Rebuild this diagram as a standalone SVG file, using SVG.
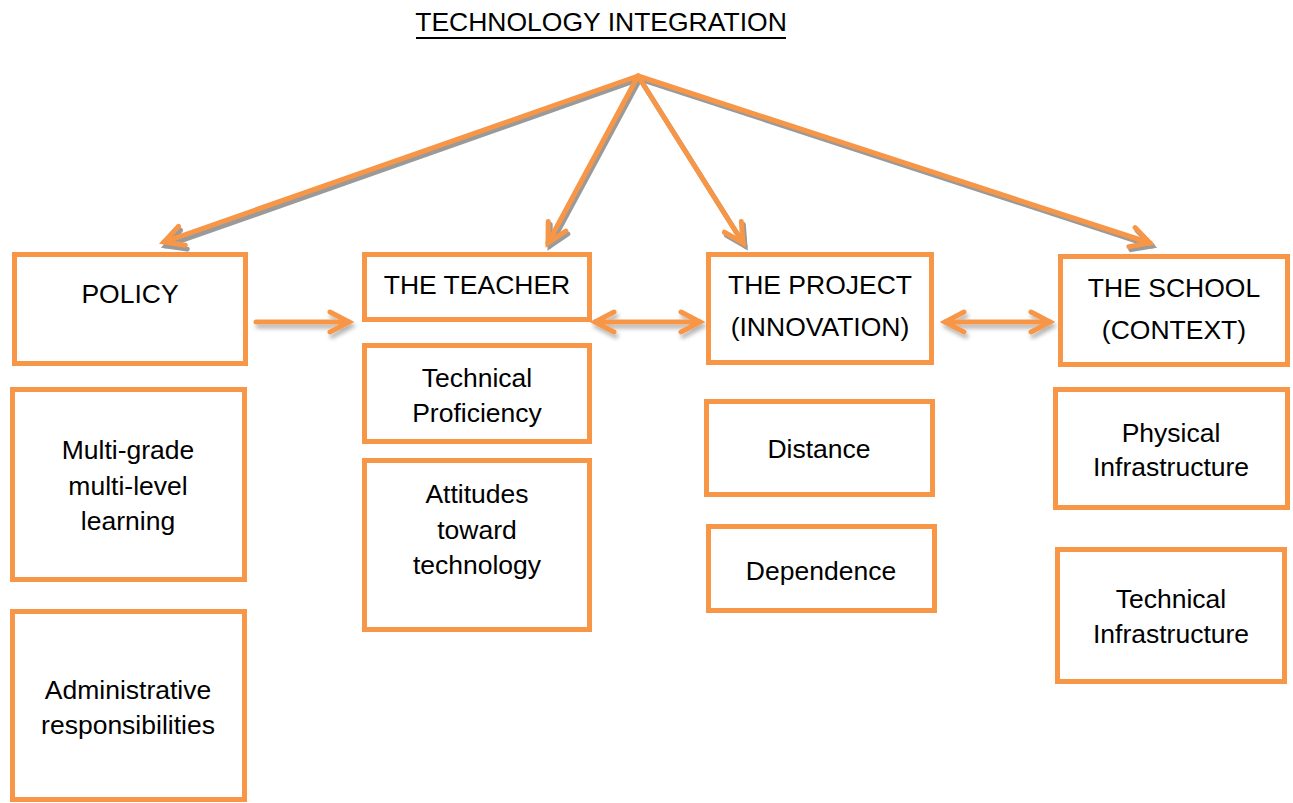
<svg xmlns="http://www.w3.org/2000/svg" width="1293" height="803" viewBox="0 0 1293 803">
<style>
  .box { fill: #ffffff; stroke: #F79646; stroke-width: 5; }
  .t { font-family: "Liberation Sans", Arial, sans-serif; font-size: 26.5px; fill: #000000; text-anchor: middle; }
  .ln { fill: none; stroke: #F79646; stroke-width: 5; stroke-linecap: round; }
  .sh { fill: none; stroke: #9a9a9a; stroke-width: 5; stroke-linecap: round; }
</style>
<defs>
  <marker id="ah" markerUnits="userSpaceOnUse" viewBox="-26 -16 32 32" markerWidth="32" markerHeight="32" refX="0" refY="0" orient="auto-start-reverse" overflow="visible">
    <path d="M -19 -10 L 0 0 L -19 10" fill="none" stroke="#F79646" stroke-width="5" stroke-linecap="round" stroke-linejoin="miter"/>
  </marker>
  <marker id="ahs" markerUnits="userSpaceOnUse" viewBox="-26 -16 32 32" markerWidth="32" markerHeight="32" refX="0" refY="0" orient="auto" overflow="visible">
    <path d="M -19 -10 L 0 0 L -19 10" fill="none" stroke="#9a9a9a" stroke-width="5" stroke-linecap="round" stroke-linejoin="miter"/>
  </marker>
  <filter id="soft" filterUnits="userSpaceOnUse" x="0" y="280" width="1293" height="90">
    <feDropShadow dx="2" dy="4" stdDeviation="2" flood-color="#000000" flood-opacity="0.3"/>
  </filter>
</defs>

<g id="title">
  <text class="t" x="601" y="31">TECHNOLOGY INTEGRATION</text>
  <line x1="416" y1="38" x2="786" y2="38" stroke="#000000" stroke-width="2"/>
</g>

<g id="connectors">
  <g id="shadows">
    <line class="sh" x1="640" y1="79" x2="166" y2="246" marker-end="url(#ahs)"/>
    <line class="sh" x1="640" y1="79" x2="550" y2="246" marker-end="url(#ahs)"/>
    <line class="sh" x1="640" y1="79" x2="745" y2="246" marker-end="url(#ahs)"/>
    <line class="sh" x1="640" y1="79" x2="1152" y2="246" marker-end="url(#ahs)"/>
  </g>
  <line class="ln" x1="638" y1="76" x2="164" y2="242" marker-end="url(#ah)"/>
  <line class="ln" x1="638" y1="76" x2="548" y2="243" marker-end="url(#ah)"/>
  <line class="ln" x1="638" y1="76" x2="743" y2="243" marker-end="url(#ah)"/>
  <line class="ln" x1="638" y1="76" x2="1150" y2="243" marker-end="url(#ah)"/>
  <g filter="url(#soft)">
    <line class="ln" x1="256" y1="322" x2="349" y2="322" marker-end="url(#ah)"/>
    <line class="ln" x1="595" y1="322" x2="700" y2="322" marker-start="url(#ah)" marker-end="url(#ah)"/>
    <line class="ln" x1="945" y1="322" x2="1050" y2="322" marker-start="url(#ah)" marker-end="url(#ah)"/>
  </g>
</g>

<g id="policy">
  <rect class="box" x="14.5" y="254.5" width="231" height="109"/>
  <text class="t" x="130" y="303">POLICY</text>
</g>
<g id="multigrade">
  <rect class="box" x="12.5" y="389.5" width="232" height="190"/>
  <text class="t" x="128" y="459">Multi-grade</text>
  <text class="t" x="128" y="495">multi-level</text>
  <text class="t" x="128" y="530">learning</text>
</g>
<g id="administrative">
  <rect class="box" x="12.5" y="611.5" width="232" height="188"/>
  <text class="t" x="128" y="699">Administrative</text>
  <text class="t" x="128" y="734">responsibilities</text>
</g>

<g id="teacher">
  <rect class="box" x="364.5" y="254.5" width="225" height="65"/>
  <text class="t" x="477" y="294">THE TEACHER</text>
</g>
<g id="proficiency">
  <rect class="box" x="364.5" y="345.5" width="225" height="96"/>
  <text class="t" x="477" y="387">Technical</text>
  <text class="t" x="477" y="422">Proficiency</text>
</g>
<g id="attitudes">
  <rect class="box" x="364.5" y="460.5" width="225" height="169"/>
  <text class="t" x="477" y="503">Attitudes</text>
  <text class="t" x="477" y="539">toward</text>
  <text class="t" x="477" y="574">technology</text>
</g>

<g id="project">
  <rect class="box" x="708.5" y="254.5" width="223" height="108"/>
  <text class="t" x="820" y="294">THE PROJECT</text>
  <text class="t" x="820" y="336">(INNOVATION)</text>
</g>
<g id="distance">
  <rect class="box" x="706.5" y="401.5" width="226" height="93"/>
  <text class="t" x="819" y="458">Distance</text>
</g>
<g id="dependence">
  <rect class="box" x="708.5" y="526.5" width="226" height="84"/>
  <text class="t" x="821" y="580">Dependence</text>
</g>

<g id="school">
  <rect class="box" x="1060.5" y="256.5" width="227" height="108"/>
  <text class="t" x="1174" y="297">THE SCHOOL</text>
  <text class="t" x="1174" y="339">(CONTEXT)</text>
</g>
<g id="physical">
  <rect class="box" x="1055.5" y="389.5" width="232" height="118"/>
  <text class="t" x="1171" y="442">Physical</text>
  <text class="t" x="1171" y="476">Infrastructure</text>
</g>
<g id="technical-infra">
  <rect class="box" x="1057.5" y="549.5" width="227" height="132"/>
  <text class="t" x="1171" y="608">Technical</text>
  <text class="t" x="1171" y="643">Infrastructure</text>
</g>
</svg>
